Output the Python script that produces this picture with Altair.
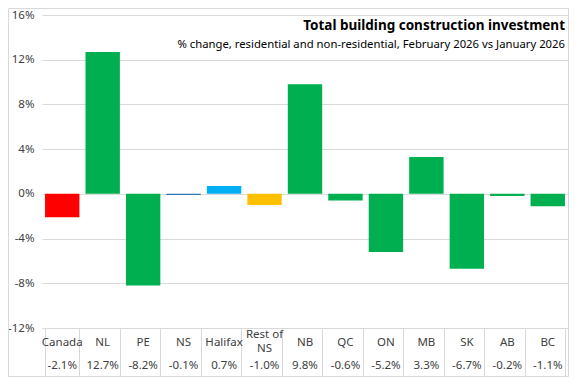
import altair as alt
import pandas as pd

categories = ["Canada", "NL", "PE", "NS", "Halifax", "Rest of NS", "NB",
              "QC", "ON", "MB", "SK", "AB", "BC"]
changes = [-2.1, 12.7, -8.2, -0.1, 0.7, -1.0, 9.8, -0.6, -5.2, 3.3, -6.7, -0.2, -1.1]
groups = ["Canada", "Province", "Province", "NS total", "Halifax", "Rest of NS",
          "Province", "Province", "Province", "Province", "Province", "Province", "Province"]
y_ticks = [-12, -8, -4, 0, 4, 8, 12, 16]
title_text = "Total building construction investment"
subtitle_text = "% change, residential and non-residential, February 2026 vs January 2026"

W, H = 526, 313
TABLE = 48
PAD_L, PAD_T = 34, 7
FONT = "Noto Sans"
GREY = "#d9d9d9"
LABEL = "#404040"

df = pd.DataFrame({"category": categories, "change": changes, "group": groups})

x_enc = alt.X(
    "category:N", sort=categories,
    scale=alt.Scale(paddingInner=0.15, paddingOuter=0.075),
    axis=alt.Axis(title=None, labels=False, domain=False, ticks=True,
                  tickBand="extent", tickSize=TABLE, tickColor=GREY, grid=False),
)

base = alt.Chart(df).encode(x=x_enc)

bars = base.mark_bar().encode(
    y=alt.Y("change:Q",
            scale=alt.Scale(domain=[-12, 16], nice=False),
            axis=alt.Axis(title=None, values=y_ticks, labelExpr="datum.value + '%'",
                          grid=True, gridColor=GREY, domain=False, ticks=False,
                          labelPadding=8, labelFontSize=11.5, labelColor=LABEL,
                          labelFont=FONT)),
    color=alt.Color("group:N", legend=None,
                    scale=alt.Scale(domain=["Canada", "Province", "NS total", "Halifax", "Rest of NS"],
                                    range=["#ff0000", "#00b050", "#2e75b6", "#00b0f0", "#ffc000"])),
)

names = base.transform_filter("datum.category != 'Rest of NS'").mark_text(
    font=FONT, fontSize=11.5, color=LABEL, baseline="middle").encode(
    y=alt.value(H + 15), text="category:N")

names_two = base.transform_filter("datum.category == 'Rest of NS'").transform_calculate(
    lbl="['Rest of', 'NS']"
).mark_text(font=FONT, fontSize=11.5, color=LABEL, baseline="middle", lineHeight=14).encode(
    y=alt.value(H + 7), text="lbl:N")

vals = base.transform_calculate(
    v="replace(format(datum.change, '.1f'), '\u2212', '-') + '%'"
).mark_text(font=FONT, fontSize=11.5, color=LABEL, baseline="middle").encode(
    y=alt.value(H + 38), text="v:N"
)

one = pd.DataFrame({"a": [0]})
title = alt.Chart(one).mark_text(font=FONT, fontSize=13.5, fontWeight="bold", color="#000000",
                                 align="right", baseline="middle").encode(
    x=alt.value(W - 3), y=alt.value(11), text=alt.value(title_text))
subtitle = alt.Chart(one).mark_text(font=FONT, fontSize=11.3, color="#000000",
                                    align="right", baseline="middle").encode(
    x=alt.value(W - 3), y=alt.value(30), text=alt.value(subtitle_text))

frame = alt.Chart(one).mark_rect(fill="transparent", stroke=GREY, strokeWidth=1).encode(
    x=alt.value(-PAD_L + 0.5), x2=alt.value(W + 0.5),
    y=alt.value(-PAD_T + 0.5), y2=alt.value(H + TABLE + 0.5))

chart = alt.layer(bars, names, names_two, vals, title, subtitle, frame).properties(
    width=W, height=H,
    autosize=alt.AutoSizeParams(type="none"),
    padding={"left": PAD_L, "top": PAD_T, "right": 1, "bottom": TABLE + 1},
).configure_view(stroke=None)

chart.save("out.html", embed_options={"renderer": "svg", "actions": False})
